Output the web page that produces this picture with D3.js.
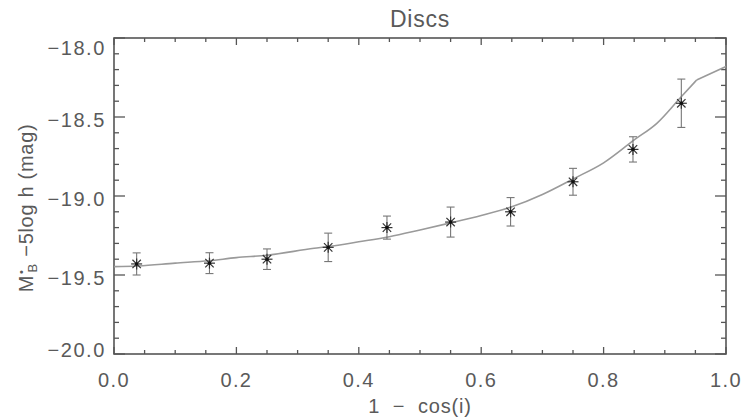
<!DOCTYPE html>
<html>
<head>
<meta charset="utf-8">
<script src="https://cdn.jsdelivr.net/npm/d3@7.9.0/dist/d3.min.js"></script>
<style>
  body { margin: 0; background: #fff; }
  svg { display: block; }
  text { font-family: "Liberation Sans", Arial, sans-serif; fill: #5a5a5a; }
</style>
</head>
<body>
<svg id="chart" width="741" height="419"></svg>
<script>
// measured points (1 - cos i, magnitude, error)
const obsX = [0.037, 0.156, 0.25, 0.35, 0.446, 0.55, 0.648, 0.75, 0.848, 0.927];
const obsY = [-19.43, -19.425, -19.40, -19.325, -19.20, -19.165, -19.10, -18.91, -18.705, -18.413];
const obsErr = [0.07, 0.066, 0.065, 0.09, 0.073, 0.095, 0.09, 0.085, 0.08, 0.153];

// model curve (smooth up to the kink, straight after it)
const curveX = [0.0, 0.04, 0.10, 0.155, 0.20, 0.25, 0.327, 0.35, 0.40, 0.45, 0.50, 0.55, 0.60, 0.65, 0.70, 0.75, 0.80, 0.85, 0.887, 0.925, 0.952, 1.0];
const curveY = [-19.447, -19.443, -19.425, -19.41, -19.39, -19.375, -19.331, -19.32, -19.29, -19.258, -19.215, -19.17, -19.123, -19.068, -18.99, -18.892, -18.79, -18.645, -18.54, -18.38, -18.266, -18.18];
const kinkX = 0.952;

const xTicks = [0.0, 0.2, 0.4, 0.6, 0.8, 1.0];
const yTicks = [-18.0, -18.5, -19.0, -19.5, -20.0];

const svg = d3.select("#chart");
const pL = 114, pR = 726, pT = 38, pB = 354;

const x = d3.scaleLinear().domain([0, 1]).range([pL, pR]);
const y = d3.scaleLinear().domain([-18, -20]).range([pT, pB]);

const axisColor = "#555";

// minor + major ticks on all four sides
const xMinor = d3.range(0, 1.0001, 0.05);
const yMinor = d3.range(-20, -17.9999, 0.1);
const isMajorX = (v) => Math.abs(v * 5 - Math.round(v * 5)) < 1e-6;
const isMajorY = (v) => Math.abs(v * 2 - Math.round(v * 2)) < 1e-6;

const ticks = svg.append("g").attr("stroke", axisColor).attr("stroke-width", 1.3);
xMinor.forEach((v) => {
  const len = isMajorX(v) ? 7 : 4;
  ticks.append("line").attr("x1", x(v)).attr("x2", x(v)).attr("y1", pB).attr("y2", pB - len);
  ticks.append("line").attr("x1", x(v)).attr("x2", x(v)).attr("y1", pT).attr("y2", pT + len);
});
yMinor.forEach((v) => {
  const len = isMajorY(v) ? 11 : 5;
  ticks.append("line").attr("x1", pL).attr("x2", pL + len).attr("y1", y(v)).attr("y2", y(v));
  ticks.append("line").attr("x1", pR).attr("x2", pR - len).attr("y1", y(v)).attr("y2", y(v));
});

svg.append("rect")
  .attr("x", pL).attr("y", pT)
  .attr("width", pR - pL).attr("height", pB - pT)
  .attr("fill", "none").attr("stroke", axisColor).attr("stroke-width", 1.6);

// tick labels
svg.append("g").selectAll("text").data(xTicks).join("text")
  .attr("x", (d) => x(d)).attr("y", 387)
  .attr("text-anchor", "middle")
  .attr("font-size", 20).attr("letter-spacing", 1.4)
  .text((d) => d.toFixed(1));

svg.append("g").selectAll("text").data(yTicks).join("text")
  .attr("x", 106)
  .attr("y", (d) => Math.min(Math.max(y(d) + 3, pT + 10), pB - 4))
  .attr("dy", "0.36em")
  .attr("text-anchor", "end")
  .attr("font-size", 20).attr("letter-spacing", 1.6)
  .text((d) => "\u2212" + Math.abs(d).toFixed(1));

// title and axis labels
svg.append("text").attr("x", (pL + pR) / 2).attr("y", 27)
  .attr("text-anchor", "middle").attr("font-size", 23).attr("letter-spacing", 0.8)
  .text("Discs");

svg.append("text").attr("x", (pL + pR) / 2).attr("y", 413)
  .attr("text-anchor", "middle").attr("font-size", 20)
  .attr("xml:space", "preserve").attr("letter-spacing", 0.8)
  .text("1  \u2212  cos(i)");

const ylab = svg.append("text")
  .attr("transform", "translate(33,208) rotate(-90)")
  .attr("text-anchor", "middle").attr("font-size", 20)
  .attr("xml:space", "preserve").attr("letter-spacing", 0.7);
ylab.append("tspan").text("M");
ylab.append("tspan").attr("font-size", 11).attr("dx", 1).attr("dy", -8).text("\u2022");
ylab.append("tspan").attr("font-size", 13).attr("dx", -3).attr("dy", 12).text("B");
ylab.append("tspan").attr("dy", -4).text(" \u22125log h (mag)");

// model curve
const curvePts = d3.zip(curveX, curveY);
const smooth = d3.line().curve(d3.curveMonotoneX).x((d) => x(d[0])).y((d) => y(d[1]));
const straight = d3.line().x((d) => x(d[0])).y((d) => y(d[1]));
const curveG = svg.append("g").attr("fill", "none").attr("stroke", "#9a9a9a")
  .attr("stroke-width", 1.6).attr("stroke-linejoin", "round");
curveG.append("path").attr("d", smooth(curvePts.filter((d) => d[0] <= kinkX)));
curveG.append("path").attr("d", straight(curvePts.filter((d) => d[0] >= kinkX)));

// error bars
const pts = d3.zip(obsX, obsY, obsErr);
const eb = svg.append("g").attr("stroke", "#777").attr("stroke-width", 1.1);
pts.forEach(([px, py, e]) => {
  eb.append("line").attr("x1", x(px)).attr("x2", x(px)).attr("y1", y(py - e)).attr("y2", y(py + e));
  eb.append("line").attr("x1", x(px) - 4).attr("x2", x(px) + 4).attr("y1", y(py - e)).attr("y2", y(py - e));
  eb.append("line").attr("x1", x(px) - 4).attr("x2", x(px) + 4).attr("y1", y(py + e)).attr("y2", y(py + e));
});

// asterisk markers
const star = svg.append("g").attr("stroke", "#333").attr("stroke-width", 1.2);
const r = 5.5, rd = 4.2;
pts.forEach(([px, py]) => {
  const cx = x(px), cy = y(py);
  star.append("line").attr("x1", cx - r).attr("x2", cx + r).attr("y1", cy).attr("y2", cy);
  star.append("line").attr("x1", cx).attr("x2", cx).attr("y1", cy - r).attr("y2", cy + r);
  star.append("line").attr("x1", cx - rd).attr("x2", cx + rd).attr("y1", cy - rd).attr("y2", cy + rd);
  star.append("line").attr("x1", cx - rd).attr("x2", cx + rd).attr("y1", cy + rd).attr("y2", cy - rd);
  star.append("circle").attr("cx", cx).attr("cy", cy).attr("r", 1.8).attr("fill", "#111").attr("stroke", "none");
});
</script>
</body>
</html>
